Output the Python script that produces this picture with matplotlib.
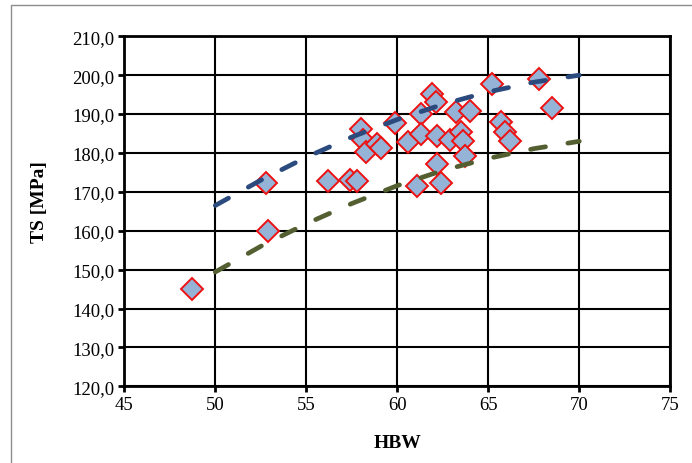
import matplotlib.pyplot as plt
from matplotlib.patches import Rectangle

plt.rcParams['font.family'] = ['Liberation Serif', 'DejaVu Serif']

# measured points (HBW, TS)
hbw = [48.7, 52.8, 52.9, 56.2, 57.4, 57.8, 58.0, 58.1, 58.3, 58.9, 59.1,
       59.9, 60.6, 61.1, 61.3, 61.3, 61.9, 62.1, 62.2, 62.2, 62.4, 62.9,
       63.2, 63.5, 63.6, 63.7, 64.0, 65.2, 65.7, 65.9, 66.2, 67.8, 68.5]
ts = [145.0, 172.3, 160.0, 172.8, 173.1, 172.8, 186.2, 183.4, 180.3, 182.3, 181.3,
      187.7, 182.8, 171.5, 190.0, 184.9, 195.2, 193.1, 184.4, 177.2, 172.3, 183.4,
      190.5, 185.3, 183.2, 179.3, 190.7, 197.7, 187.9, 185.3, 183.2, 199.0, 191.6]

# trend curves
trend_x = [50, 52.5, 55, 57.5, 60, 62.5, 65, 67.5, 70]
upper = [166.5, 173.0, 178.9, 184.1, 188.6, 192.5, 195.7, 198.2, 200.0]
lower = [149.4, 156.0, 161.8, 167.0, 171.6, 175.5, 178.6, 181.1, 183.0]

xticks = [45, 50, 55, 60, 65, 70, 75]
yticks = list(range(120, 211, 10))

fig = plt.figure(figsize=(6.92, 4.64), dpi=100)
ax = fig.add_axes([124.3 / 692, 1 - 387.3 / 464, 546 / 692, 350 / 464])

ax.plot(hbw, ts, linestyle='none', marker='D', markersize=10.8,
        markerfacecolor='#95B3D7', markeredgecolor='#EE1111',
        markeredgewidth=1.4, zorder=3)
ax.plot(trend_x, upper, color='#2B4A7E', lw=3.4, dashes=(3.2, 4.8),
        dash_capstyle='round', zorder=4)
ax.plot(trend_x, lower, color='#535F30', lw=3.4, dashes=(3.2, 4.8),
        dash_capstyle='round', zorder=4)

ax.set_xlim(45, 75)
ax.set_ylim(120, 210)
ax.set_xticks(xticks)
ax.set_yticks(yticks)
ax.set_yticklabels([f"{v},0" for v in yticks])
ax.grid(True, color='black', lw=1.5)
ax.set_axisbelow(True)
for s in ax.spines.values():
    s.set_linewidth(2.0)
ax.tick_params(direction='out', length=4, width=2, labelsize=13.5, pad=3)

ax.set_xlabel('HBW', fontsize=14, fontweight='bold')
ax.set_ylabel('TS [MPa]', fontsize=14, fontweight='bold')
ax.xaxis.set_label_coords(0.5, -0.135)
ax.yaxis.set_label_coords(-0.14, 0.53)

# outer chart frame (only top and left edges visible)
fig.add_artist(Rectangle((11 / 692, -0.1), 1.2, 1.1 - 6 / 464,
                         transform=fig.transFigure, fill=False,
                         edgecolor='#8C8C8C', lw=1.0))

fig.savefig('out.png', dpi=100)
